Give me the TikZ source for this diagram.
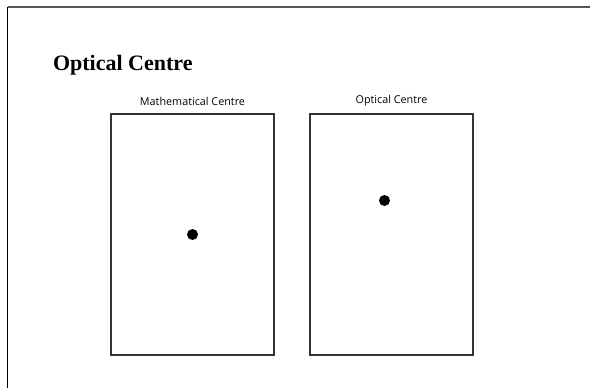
\documentclass[tikz,border=0pt]{standalone}
\usepackage{fontspec}
\setmainfont{Liberation Serif}
\newfontfamily\labelfont{Open Sans}
\definecolor{frameline}{HTML}{555555}
\definecolor{boxline}{HTML}{333333}
\usetikzlibrary{positioning}

\begin{document}
\begin{tikzpicture}[x=1pt,y=-1pt,
      every node/.style={inner sep=0pt,outer sep=0pt},
      page/.style={draw=boxline,line width=1.5pt,minimum width=163pt,minimum height=241pt},
      caption/.style={font=\labelfont\fontsize{10.8}{12}\selectfont},
      centredot/.style={circle,fill=black,minimum size=11pt}]
    \useasboundingbox (0,0) rectangle (590,388);
    % frame of the slide
    \coordinate (corner) at (7.5,6.5);
    \draw[frameline,line width=2pt] (corner) -- (590,6.5);
    \draw[black,line width=1.5pt] (corner) -- (7.5,388);
    \node[anchor=base west,font=\bfseries\fontsize{22}{26}\selectfont] (title) at (53,70) {Optical Centre};
    \node[page] (math) at (192.5,234.5) {};
    \node[page,right=36pt of math] (opt) {};
    \node[caption,above=8pt of math] (mathlbl) {Mathematical Centre};
    \node[caption,above=8pt of opt] (optlbl) {Optical Centre};
    \node[centredot] (mathdot) at (math.center) {};
    \node[centredot] (optdot) at ([shift={(-7,-34)}]opt.center) {};
  \end{tikzpicture}
\end{document}
